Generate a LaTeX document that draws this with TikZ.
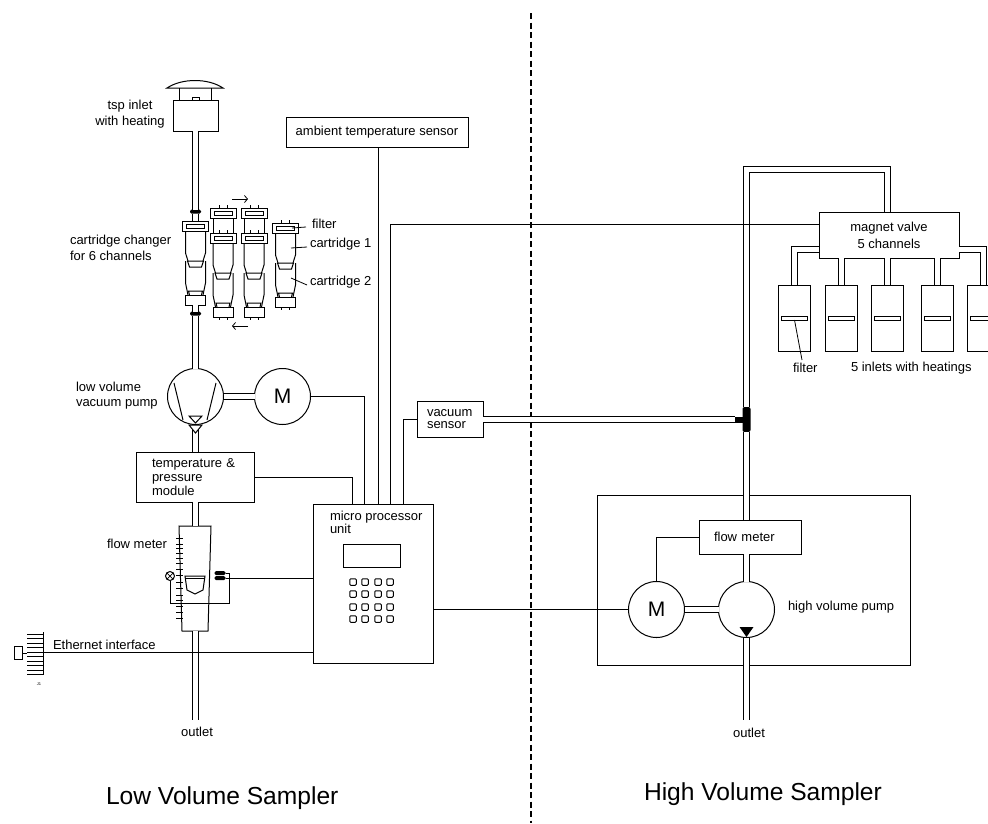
\documentclass[tikz,border=0pt]{standalone}
\usepackage{fontspec}
\setmainfont{Liberation Sans}
\usetikzlibrary{arrows.meta,positioning}

\begin{document}
\begin{tikzpicture}[
    x=1pt, y=-1pt,
    line width=1pt,
    every node/.style={outer sep=0pt},
    box/.style={
        draw,
        inner sep=0pt,
        align=left,
        font=\fontsize{13}{14}\selectfont
    },
    lab/.style={
        inner sep=0pt,
        anchor=west,
        align=left,
        font=\fontsize{13}{#1}\selectfont
    },
    lab/.default=15,
    title/.style={inner sep=0pt, anchor=west, font=\fontsize{24.6}{28}\selectfont},
    round/.style={draw, circle, minimum size=56pt, inner sep=0pt, font=\fontsize{21}{24}\selectfont},
    inlet/.style={draw, minimum width=32pt, minimum height=66pt},
    slot/.style={draw, minimum width=26pt, minimum height=4pt, inner sep=0pt},
    pill/.style={fill=black, rounded corners=1.5pt, inner sep=0pt, minimum width=11pt, minimum height=4pt},
    key/.style={draw, rounded corners=1pt, minimum size=6.5pt, inner sep=0pt},
    pipe/.style={double, double distance=5pt, line width=1pt},
    wire/.style={line width=1pt},
    leader/.style={line width=0.8pt},
    arr/.style={-{Straight Barb[length=3pt,width=7pt]}, line width=0.8pt},
    holder/.pic={
        \draw (-13,0) rectangle (13,10);
        \draw (-9,3) rectangle (9,7);
    },
    cart/.pic={
        \draw (-10,0) -- (-10,22) -- (-7.5,30) (10,0) -- (10,22) -- (7.5,30);
        \draw (-8,30) -- (-6,36) -- (6,36) -- (8,30) -- cycle;
        \draw (-10,30) -- (-10,52) -- (-7.5,64) (10,30) -- (10,52) -- (7.5,64);
        \draw (-6,64) -- (-7,60) -- (7,60) -- (6,64);
        \draw (-10,64) rectangle (10,74);
    },
    pins/.pic={
        \draw[line width=0.7pt] (-4,0) -- (-4,3) (4,0) -- (4,3);
    }
]
    \clip (0,0) rectangle (988,823);

    %% Trennlinie
    \coordinate (divtop) at (531,13);
    \coordinate (divbot) at (531,823);
    \draw[line width=1.1pt, dash pattern=on 6pt off 3.5pt] (divtop) -- (divbot);

    %% Einlass
    \node[box, minimum width=45pt, minimum height=31pt] (tsp) at (195.5,115.5) {};
    \draw (167,88) .. controls (182,78) and (208,78) .. (223,88) -- cycle;
    \draw (179,88) -- (179,100) (211,88) -- (211,100);
    \draw (192,100) -- (192,97) -- (199,97) -- (199,100);
    \node[lab=16, anchor=center, align=center] (tsplab) at (130,114) {tsp inlet\\with heating};

    %% Kartuschenwechsler
    \node[pill] (ringa) at (195.5,211.5) {};
    \node[pill] (ringb) at (195.5,313.5) {};
    \coordinate (holdtop) at (195.5,221);
    \coordinate (holdbot) at (195.5,305);
    \pic at (195.5,221) {holder};
    \pic at (195.5,231) {cart};
    \foreach \x in {223,254}{
        \pic at (\x,208) {holder};
        \pic at (\x,233) {holder};
        \pic at (\x,243) {cart};
        \pic at (\x,205) {pins};
        \pic at (\x,230) {pins};
        \pic at (\x,317) {pins};
        \draw (\x-10,218) -- (\x-10,233) (\x+10,218) -- (\x+10,233);
    }
    \pic at (285.5,223) {holder};
    \pic at (285.5,233) {cart};
    \pic at (285.5,220) {pins};
    \pic at (285.5,307) {pins};
    \coordinate (arra) at (232,199);
    \coordinate (arrb) at (248,199);
    \coordinate (arrc) at (248,326);
    \coordinate (arrd) at (232,326);
    \draw[arr] (arra) -- (arrb);
    \draw[arr] (arrc) -- (arrd);
    \node[lab=16] (changer) at (70,248) {cartridge changer\\for 6 channels};
    \node[lab] (filtlab) at (312,224) {filter};
    \node[lab] (carta) at (310,244) {cartridge 1};
    \node[lab] (cartb) at (310,282) {cartridge 2};
    \draw[leader] (292,228) -- (306,227);
    \draw[leader] (291,248) -- (307,247);
    \draw[leader] (291,278) -- (307,285);

    %% Pumpe und Motor
    \node[round] (lpump) at (195.5,396.5) {};
    \node[round, right=31pt of lpump] (lmotor) {M};
    \draw (174,383) -- (183,420) (216,383) -- (207,420);
    \draw (189,416) -- (202,416) -- (195.5,423) -- cycle;
    \node[lab] (lpumplab) at (76,396) {low volume\\vacuum pump};

    %% Temperaturmodul
    \node[box, text width=86pt, inner xsep=16pt, minimum height=50pt] (tpmod) at (195,477) {temperature \&\\pressure\\module};

    %% Durchflussmesser
    \node[inner sep=0pt, minimum size=0pt] (lmeter) at (195.5,526) {};
    \node[inner sep=0pt, minimum size=0pt] (lmeterb) at (195.5,631) {};
    \draw (179,526) -- (211,526) -- (208,631) -- (182,631) -- cycle;
    \foreach \y in {538,544,548,553,558,563,569,575,582,588,595,600,606,612,618}
        \draw[line width=0.8pt] (176,\y) -- (183,\y);
    \draw (185,576) -- (205,576) -- (203,590) -- (195,594) -- (187,590) -- cycle;
    \draw (185,578) -- (205,578);
    \node[draw, circle, minimum size=9pt, inner sep=0pt] (lamp) at (170,576) {};
    \draw[line width=0.7pt] (lamp.45) -- (lamp.225) (lamp.135) -- (lamp.315);
    \node[pill] (sensa) at (220,573) {};
    \node[pill] (sensb) at (220,578) {};
    \coordinate (lbend) at (229,603);
    \node[lab] (lflowlab) at (107,544) {flow meter};

    %% Mikroprozessor
    \node[box, minimum width=120pt, minimum height=159pt] (mpu) at (373,583.5) {};
    \node[lab=12, anchor=north west] (mpulab) at (330,511) {micro processor\\unit};
    \node[box, minimum width=57pt, minimum height=23pt] (display) at (371.5,555.5) {};
    \foreach \x in {353,365,378,390}
        \foreach \y in {582,594,607,619}
            \node[key] (k\x\y) at (\x,\y) {};

    %% Sensoren
    \node[box, minimum width=182pt, minimum height=30pt, align=center] (ambient) at (377,132) {ambient temperature sensor};
    \node[box, font=\fontsize{13}{12}\selectfont, text width=46pt, inner xsep=10pt, inner ysep=0pt, minimum height=36pt] (vacsens) at (450,419.5) {vacuum\\sensor};

    %% Ventil und Einlaesse
    \node[box, minimum width=140pt, minimum height=46pt, align=center, font=\fontsize{13}{17}\selectfont] (valve) at (889,235) {magnet valve\\5 channels};
    \foreach \x/\n in {794.5/a,841.5/b,887.5/c,937.5/d,983.5/e}{
        \node[inlet] (inlet\n) at (\x,318) {};
        \node[slot] (slot\n) at (\x,318) {};
    }
    \coordinate (valvel) at (819,249.5);
    \coordinate (valver) at (959,249.5);
    \node[lab] (filtlabb) at (793,368) {filter};
    \node[lab] (inletlab) at (851,368) {5 inlets with heatings};
    \draw[leader] (slota.south) -- (802,360);

    %% Hochvolumen
    \node[draw, minimum width=313pt, minimum height=170pt, inner sep=0pt] (hvbox) at (753.5,580) {};
    \node[box, minimum width=102pt, minimum height=34pt, text width=72pt, inner xsep=15pt] (hflow) at (750,537) {flow meter};
    \node[round] (hpump) at (746.5,609.5) {};
    \node[round, left=34pt of hpump] (hmotor) {M};
    \fill (739.5,627) -- (753.5,627) -- (746.5,637) -- cycle;
    \node[lab] (hpumplab) at (788,607) {high volume pump};
    \node[fill=black, rounded corners=2pt, inner sep=0pt, minimum width=8pt, minimum height=25pt] (tee) at (746.5,419.5) {};
    \node[fill=black, inner sep=0pt, minimum width=8pt, minimum height=6pt, left=0pt of tee] (teeb) {};

    %% Ausgaenge
    \coordinate (loutend) at (195.5,720);
    \coordinate (houtend) at (746.5,720);
    \node[lab, anchor=center] (loutlab) at (197,732) {outlet};
    \node[lab, anchor=center] (houtlab) at (749,733) {outlet};

    %% Ethernet
    \coordinate (ethbar) at (43,652);
    \node[draw, inner sep=0pt, minimum width=8pt, minimum height=13pt] (jack) at (18,653) {};
    \draw[line width=0.8pt] (jack.east) -- (27,653);
    \draw[line width=0.8pt] (43,632) -- (43,675);
    \foreach \y in {634,638.5,643,647.5,652,656.5,661,665.5,670,674.5}
        \draw[line width=0.7pt] (27,\y) -- (43,\y);
    \node[font=\fontsize{4}{4}\selectfont, inner sep=0pt] (jone) at (39,684) {J1};
    \node[lab] (ethlab) at (53,645) {Ethernet interface};

    %% Titel
    \node[title] (lowtitle) at (106,798) {Low Volume Sampler};
    \node[title] (hightitle) at (644,794) {High Volume Sampler};

    %% Rohre
    \draw[pipe] (tsp) -- (ringa);
    \draw[pipe] (ringa) -- (holdtop);
    \draw[pipe] (holdbot) -- (ringb);
    \draw[pipe] (ringb) -- (lpump);
    \draw[pipe] (lpump.east) -- (lmotor.west);
    \draw[pipe] (lpump) -- (tpmod.north -| lpump);
    \draw[pipe] (tpmod.south -| lpump) -- (lmeter);
    \draw[pipe] (lmeterb) -- (loutend);
    \draw[pipe] (vacsens) -- (teeb);
    \draw[pipe] (hflow.north -| hpump) -- (tee);
    \draw[pipe] (tee.north) |- (887.5,169.5) -- (887.5,212);
    \draw[pipe] (hflow.south -| hpump) -- (hpump);
    \draw[pipe] (hmotor) -- (hpump);
    \draw[pipe] (hpump) -- (houtend);
    \draw[pipe] (valvel) -| (inleta.north);
    \draw[pipe] (valver) -| (inlete.north);
    \foreach \n in {b,c,d}
        \draw[pipe] (inlet\n.north |- valve.south) -- (inlet\n.north);
    \draw[fill=white] (189,425) -- (202,425) -- (195.5,433) -- cycle;

    %% Leitungen
    \draw[wire] (lmotor) -| ([xshift=-9pt]mpu.north);
    \draw[wire] (tpmod) -| ([xshift=-21pt]mpu.north);
    \draw[wire] ([xshift=5pt]mpu.north) -- ([xshift=5pt]mpu.north |- ambient.south);
    \draw[wire] ([xshift=17pt]mpu.north) |- ([yshift=11pt]valve.west);
    \draw[wire] ([xshift=30pt]mpu.north) |- (vacsens);
    \draw[wire] (lamp) -- (170,603) -- (lbend) |- (sensa.east);
    \draw[wire] (sensb.east) -- (mpu.west |- sensb);
    \draw[wire] (ethbar) -- (mpu.west |- ethbar);
    \draw[wire] (hmotor.west) -- (mpu.east |- hmotor);
    \draw[wire] (hflow) -| (hmotor);
\end{tikzpicture}
\end{document}
